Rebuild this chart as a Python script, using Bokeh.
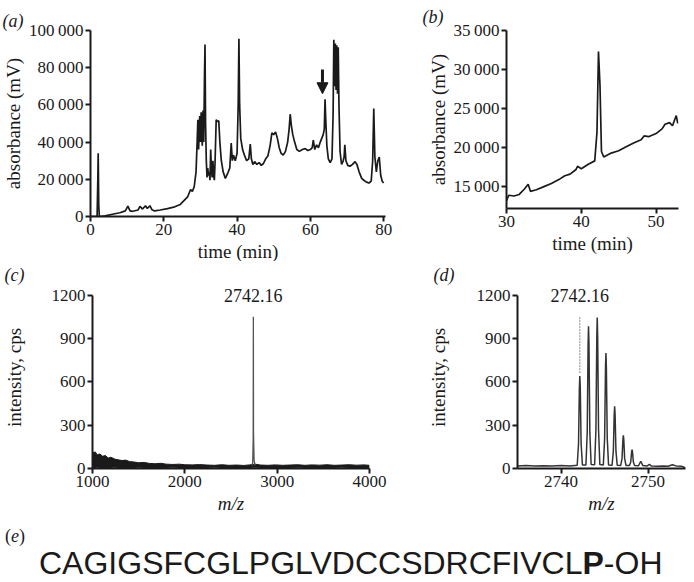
from bokeh.plotting import figure
from bokeh.models import Range1d, FixedTicker, Arrow, NormalHead, Div, Title
from bokeh.layouts import column, row
from bokeh.embed import file_html
from bokeh.resources import INLINE

# ---------------- data ----------------
# (a) full chromatogram
a_time = [0, 1.8, 2.0, 2.1, 2.25, 2.4, 2.6, 4, 6, 8, 9.5, 10.2, 10.8, 11.5, 13, 13.5, 14.2, 15.0, 15.5, 16.2,
          16.8, 17.5, 19, 21, 23, 24.5, 25.5, 26.5, 27.3, 27.8, 28.3, 28.8, 29.1, 29.3, 29.5, 29.8, 30.0, 30.2,
          30.5, 30.7, 30.9, 31.1, 31.25, 31.4, 31.6, 31.8, 32.0, 32.2, 32.4, 32.6, 32.8, 33.0, 33.2, 33.4, 33.6,
          33.8, 34.0, 34.3, 34.6, 35.0, 35.3, 35.7, 36.2, 36.8, 37.4, 38.0, 38.4, 38.7, 39.0, 39.5, 40.0, 40.3,
          40.5, 40.7, 41.0, 41.5, 42.0, 42.6, 43.2, 43.6, 43.9, 44.3, 44.8, 45.4, 46.0, 46.6, 47.2, 47.8, 48.4,
          49.0, 49.5, 50.0, 50.5, 51.0, 51.5, 52.0, 52.6, 53.2, 53.8, 54.2, 54.5, 54.8, 55.2, 55.7, 56.3, 57.0,
          57.8, 58.6, 59.3, 60.0, 60.5, 60.8, 61.2, 61.7, 62.2, 62.7, 63.1, 63.5, 63.8, 64.0, 64.2, 64.5, 64.9,
          65.4, 65.9, 66.2, 66.4, 66.6, 66.8, 67.0, 67.2, 67.4, 67.6, 67.8, 68.1, 68.5, 68.9, 69.2, 69.4, 69.7,
          70.2, 70.8, 71.5, 72.2, 72.7, 73.3, 74.0, 74.6, 75.3, 76.0, 76.6, 77.0, 77.3, 77.6, 78.0, 78.4, 78.8,
          79.2, 79.6, 80.0]
a_abs = [0, 0, 20000, 34000, 6000, 500, 0, 300, 1200, 2000, 3000, 5600, 3000, 2800, 3500, 5500, 4000, 5800, 4300, 5800,
         3600, 3000, 3500, 4200, 5200, 6500, 8500, 10500, 14500, 13500, 16000, 24000, 40000, 52000, 36000, 54000, 40000, 56000,
         38000, 57000, 40000, 75000, 92500, 50000, 30000, 21000, 26000, 22000, 24000, 19500, 36000, 25000, 21000, 30000, 22000,
         19500, 30000, 52000, 51000, 51500, 40000, 30000, 24000, 20500, 23000, 26000, 39500, 30000, 33000, 30000, 34000, 60000,
         95500, 60000, 42000, 36000, 33000, 30000, 31000, 39000, 31000, 28000, 29500, 28000, 29000, 27500, 28500, 31000, 32500,
         38000, 45000, 44000, 45500, 42000, 37000, 34000, 33000, 35000, 40000, 47000, 55000, 49000, 44000, 40000, 36000, 35000,
         36000, 36500, 35500, 36000, 37000, 41000, 36000, 38500, 37000, 40000, 42000, 44000, 47000, 63000, 52000, 38000, 31000,
         29000, 31000, 55000, 95000, 70000, 93000, 68000, 92000, 66000, 91000, 60000, 35000, 28000, 29500, 32000, 38500, 30000,
         27500, 27000, 28000, 29500, 28000, 24000, 20500, 19500, 18500, 18000, 19000, 30000, 58000, 32000, 24000, 30000, 32000,
         22000, 19000, 18000]
a_xticks = [0, 20, 40, 60, 80]
a_yticks = [0, 20000, 40000, 60000, 80000, 100000]
a_ylabels = ["0", "20\u2009000", "40\u2009000", "60\u2009000", "80\u2009000", "100\u2009000"]
a_arrow_time = 63.3
a_arrow_from = 79000
a_arrow_to = 66000

# (b) purified fraction
b_time = [30.0, 30.3, 31.0, 31.7, 32.4, 32.9, 33.2, 34.0, 35.0, 36.0, 37.0, 37.8, 38.5, 39.3, 39.5, 40.0, 41.0,
          41.8, 42.1, 42.3, 42.5, 42.7, 43.0, 44.0, 45.0, 46.0, 47.0, 48.0, 48.4, 49.0, 50.0, 50.8, 51.2, 51.8,
          52.2, 52.5, 52.7, 52.9]
b_abs = [13200, 13900, 13800, 14000, 14700, 15300, 14400, 14600, 15000, 15400, 15900, 16400, 16600, 17200, 17600, 17300, 17900,
         18300, 22000, 32300, 28000, 19500, 18800, 19300, 19600, 20100, 20600, 21000, 21500, 21400, 21800, 22400, 23000, 23200,
         22800, 23600, 24100, 23100]
b_xticks = [30, 40, 50]
b_yticks = [15000, 20000, 25000, 30000, 35000]
b_ylabels = ["15\u2009000", "20\u2009000", "25\u2009000", "30\u2009000", "35\u2009000"]

# (c) mass spectrum, full range
c_mz = [1000, 1010, 1030, 1050, 1080, 1110, 1140, 1170, 1200, 1240, 1280, 1320, 1360, 1400, 1450, 1500, 1560, 1620,
        1680, 1740, 1800, 1870, 1940, 2000, 2080, 2160, 2240, 2320, 2400, 2480, 2560, 2640, 2700, 2760, 2820, 2900,
        2980, 3060, 3140, 3220, 3300, 3380, 3460, 3540, 3620, 3700, 3780, 3860, 3940, 4000]
c_hi = [120, 110, 115, 95, 100, 85, 90, 72, 78, 65, 60, 55, 58, 48, 45, 40, 42, 35,
        33, 36, 30, 28, 30, 26, 25, 27, 24, 22, 26, 22, 24, 21, 25, 30, 24, 22,
        25, 22, 24, 26, 22, 25, 23, 26, 22, 24, 26, 23, 25, 22]
c_lo = [2, 4, 3, 5, 3, 4, 2, 4, 3, 5, 3, 4, 2, 4, 3, 5, 3, 4,
        2, 4, 3, 5, 3, 4, 2, 4, 3, 5, 3, 4, 2, 4, 3, 5, 3, 4,
        2, 4, 3, 5, 3, 4, 2, 4, 3, 5, 3, 4, 2, 4]
c_peak_mz = [2725, 2735, 2740, 2742.16, 2744, 2750, 2760]
c_peak_int = [20, 40, 200, 1050, 250, 60, 22]
c_xticks = [1000, 2000, 3000, 4000]
c_yticks = [0, 300, 600, 900, 1200]
peak_label = "2742.16"
peak_mz = 2742.16

# (d) isotope cluster
d_mz = [2735, 2736, 2737, 2738, 2739, 2740, 2741, 2741.86,
        2742.01, 2742.11, 2742.16, 2742.21, 2742.31, 2742.46,
        2742.86, 2743.01, 2743.11, 2743.16, 2743.21, 2743.31, 2743.46,
        2743.86, 2744.01, 2744.11, 2744.16, 2744.21, 2744.31, 2744.46,
        2744.86, 2745.01, 2745.11, 2745.16, 2745.21, 2745.31, 2745.46,
        2745.86, 2746.01, 2746.11, 2746.16, 2746.21, 2746.31, 2746.46,
        2746.86, 2747.01, 2747.11, 2747.16, 2747.21, 2747.31, 2747.46,
        2747.86, 2748.01, 2748.11, 2748.16, 2748.21, 2748.31, 2748.46,
        2748.9, 2749.16, 2749.4, 2749.9, 2750.16, 2750.4,
        2751.0, 2751.8, 2752.3, 2752.8, 2753.2, 2753.8, 2754.1, 2754.3]
d_int = [18, 20, 17, 19, 18, 20, 18, 22,
         170, 560, 640, 560, 170, 25,
         24, 250, 860, 985, 860, 250, 28,
         26, 270, 910, 1045, 910, 270, 27,
         25, 210, 700, 800, 700, 210, 24,
         22, 120, 375, 430, 375, 120, 22,
         21, 70, 200, 230, 200, 70, 21,
         20, 45, 115, 130, 115, 45, 20,
         19, 50, 20, 18, 28, 17,
         16, 18, 16, 26, 18, 15, 10, 3]
d_marker_from = 660
d_marker_to = 1050
d_xticks = [2740, 2750]
d_yticks = [0, 300, 600, 900, 1200]

sequence = "CAGIGSFCGLPGLVDCCSDRCFIVCL"
sequence_bold = "P"
sequence_end = "-OH"

SERIF = "Liberation Serif"
INK = "#1a1a1a"


def make_fig(fw, fh, xr, yr, bl, br, bt, bb, xticks, yticks, xlabel, ylabel, ylab_standoff):
    p = figure(frame_width=fw, frame_height=fh, x_range=Range1d(*xr), y_range=Range1d(*yr),
               output_backend="svg", toolbar_location=None,
               min_border_left=bl, min_border_right=br, min_border_top=bt, min_border_bottom=bb)
    p.grid.visible = False
    p.outline_line_color = None
    p.background_fill_color = "white"
    p.border_fill_color = "white"
    for ax in (p.xaxis[0], p.yaxis[0]):
        ax.axis_line_width = 2
        ax.axis_line_color = INK
        ax.major_tick_line_width = 2
        ax.major_tick_line_color = INK
        ax.major_tick_out = 5
        ax.major_tick_in = 0
        ax.minor_tick_out = 0
        ax.minor_tick_in = 0
        ax.major_label_text_font = SERIF
        ax.major_label_text_font_size = "17px"
        ax.major_label_text_color = INK
        ax.axis_label_text_font = SERIF
        ax.axis_label_text_font_size = "19px"
        ax.axis_label_text_font_style = "normal"
        ax.axis_label_text_color = INK
        ax.major_label_standoff = 2
    p.xaxis[0].ticker = FixedTicker(ticks=xticks)
    p.yaxis[0].ticker = FixedTicker(ticks=yticks)
    p.xaxis[0].axis_label = xlabel
    p.yaxis[0].axis_label = ylabel
    p.xaxis[0].axis_label_standoff = 3
    p.yaxis[0].axis_label_standoff = ylab_standoff
    return p


def panel_title(p, text, offset, standoff):
    p.add_layout(Title(text=text, align="left", offset=offset, standoff=standoff,
                       text_font=SERIF, text_font_size="18px", text_font_style="italic",
                       text_color=INK), "above")


# ---- (a)
pa = make_fig(295, 186, (0, 80.5), (0, 100000), 88, 37, 20, 53,
              a_xticks, a_yticks, "time (min)", "absorbance (mV)", 2)
pa.yaxis[0].major_label_overrides = {v: s for v, s in zip(a_yticks, a_ylabels)}
pa.line(a_time, a_abs, line_color=INK, line_width=1.7)
pa.add_layout(Arrow(end=NormalHead(size=11, fill_color=INK, line_color=INK),
                    x_start=a_arrow_time, y_start=a_arrow_from, x_end=a_arrow_time, y_end=a_arrow_to,
                    line_width=3, line_color=INK))
panel_title(pa, "(a)", -88, 0)

# ---- (b)
pb = make_fig(172, 178, (30, 53), (12200, 35000), 84, 2, 28, 53,
              b_xticks, b_yticks, "time (min)", "absorbance (mV)", 2)
pb.yaxis[0].major_label_overrides = {v: s for v, s in zip(b_yticks, b_ylabels)}
pb.line(b_time, b_abs, line_color=INK, line_width=1.7)
panel_title(pb, "(b)", -84, 8)

# ---- (c)
pc = make_fig(277, 182, (1000, 4000), (0, 1260), 88, 55, 24, 53,
              c_xticks, c_yticks, "m/z", "intensity, cps", 24)
pc.yaxis[0].bounds = (0, 1200)
pc.xaxis[0].axis_label_text_font_style = "italic"
pc.varea(x=c_mz, y1=c_lo, y2=c_hi, fill_color=INK)
pc.line(c_mz, c_hi, line_color=INK, line_width=1)
pc.line(c_peak_mz, c_peak_int, line_color="#555555", line_width=1.3)
pc.text(x=[peak_mz], y=[1200], text=[peak_label], text_font={"value": SERIF}, text_font_size="18px",
        text_color=INK, text_align="center", text_baseline="middle")
panel_title(pc, "(c)", -88, 3)

# ---- (d)
pd_ = make_fig(168, 182, (2735, 2754.3), (0, 1260), 84, 6, 24, 53,
               d_xticks, d_yticks, "m/z", "intensity, cps", 25)
pd_.yaxis[0].bounds = (0, 1200)
pd_.xaxis[0].axis_label_text_font_style = "italic"
pd_.line(d_mz, d_int, line_color="#333333", line_width=1.5)
pd_.segment(x0=[peak_mz], y0=[d_marker_from], x1=[peak_mz], y1=[d_marker_to],
            line_color="#8a8a8a", line_width=1, line_dash="2 1")
pd_.text(x=[peak_mz], y=[1200], text=[peak_label], text_font={"value": SERIF}, text_font_size="18px",
         text_color=INK, text_align="center", text_baseline="middle")
panel_title(pd_, "(d)", -84, 3)

# ---- (e)
div = Div(text=(
    '<div style="font-family:\'Liberation Serif\';font-size:18px;line-height:18px;color:#1a1a1a;margin:1px 0 0 0;">'
    '(<i>e</i>)</div>'
    '<div style="font-family:\'Liberation Sans\';font-size:32px;line-height:32px;color:#1a1a1a;'
    'margin:2px 0 0 34px;white-space:nowrap;">'
    + sequence + '<b>' + sequence_bold + '</b>' + sequence_end + '</div>'),
    width=678, height=51)

layout = column(row(pa, pb), row(pc, pd_), div)
open("out.html", "w").write(file_html(layout, INLINE))
